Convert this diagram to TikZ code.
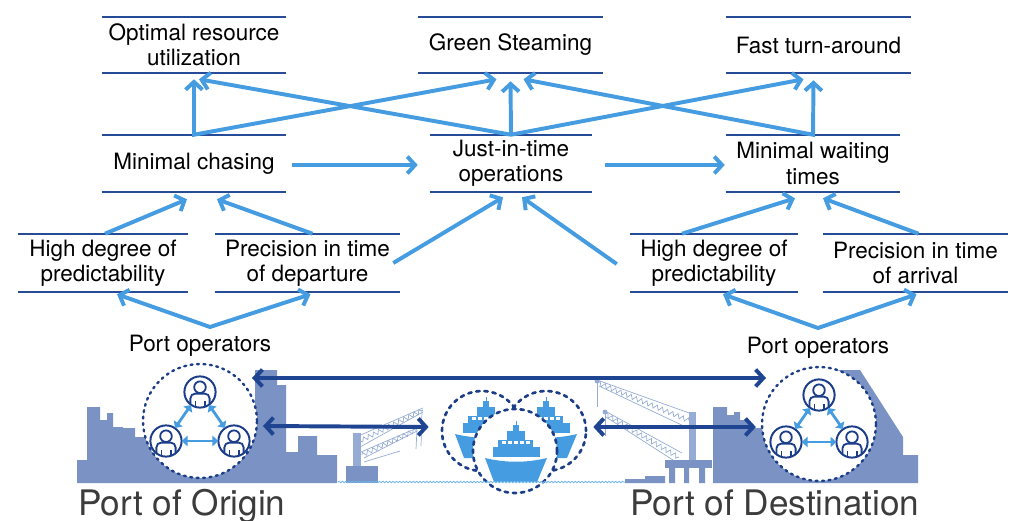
\documentclass[tikz,border=0pt]{standalone}
\usepackage{fontspec}
\setmainfont{TeX Gyre Heros}
\usetikzlibrary{arrows.meta,calc,decorations.pathmorphing}
\definecolor{rulecol}{RGB}{38,76,152}
\definecolor{flow}{RGB}{70,156,224}
\definecolor{deepblue}{RGB}{30,68,146}
\definecolor{ringcol}{RGB}{28,62,136}
\definecolor{town}{RGB}{122,146,196}
\definecolor{cranecol}{RGB}{150,172,212}
\definecolor{sea}{RGB}{110,182,232}
\definecolor{titlecol}{RGB}{60,60,60}
\tikzset{
  goal/.style={align=center, inner sep=0pt, minimum height=14.25mm, font=\fontsize{16}{18}\selectfont},
  rule/.style={draw=rulecol, line width=1.4pt},
  up/.style={draw=flow, line width=2.8pt, -{Straight Barb[length=5.5pt,width=12pt]}},
  both/.style={draw=flow, line width=2.8pt, {Straight Barb[length=5.5pt,width=12pt]}-{Straight Barb[length=5.5pt,width=12pt]}},
  link/.style={draw=deepblue, line width=2.8pt, {Straight Barb[length=5.5pt,width=12pt]}-{Straight Barb[length=5.5pt,width=12pt]}},
  mutual/.style={draw=flow, line width=2pt, {Triangle[length=4pt,width=7.5pt]}-{Triangle[length=4pt,width=7.5pt]}, shorten <=-0.5pt, shorten >=-0.5pt},
  ring/.style={circle, draw=ringcol, fill=white, line width=1.7pt, dash pattern=on 1.4pt off 3.2pt, line cap=round, inner sep=0pt},
  fleet/.style={ring, line width=1.9pt, dash pattern=on 2.4pt off 3.4pt},
  crew/.style={circle, draw=ringcol, fill=white, line width=1.4pt, minimum size=7.8mm, inner sep=0pt,
    path picture={
      \draw[ringcol, line width=1.3pt] ([yshift=1.2mm]path picture bounding box.center) circle[radius=1.45mm];
      \draw[ringcol, line width=1.3pt, rounded corners=1.2mm]
        ([shift={(-2.4mm,-4.8mm)}]path picture bounding box.center) -- ++(0,4.4mm) -- ++(4.8mm,0) -- ++(0,-4.4mm);
      \draw[ringcol, line width=1pt]
        ([shift={(-1.2mm,-2.3mm)}]path picture bounding box.center) -- ++(0,-2.4mm)
        ([shift={(1.2mm,-2.3mm)}]path picture bounding box.center) -- ++(0,-2.4mm);
    }},
  boom/.style={draw=cranecol, line width=0.5pt},
  lattice/.style={boom, decorate, decoration={zigzag, segment length=4pt, amplitude=1.6pt}},
  vessel/.pic={
    \fill[flow] (-31,-24) .. controls (-10,-19) and (10,-19) .. (31,-24) -- (21,0) -- (-22,0) -- cycle;
    \fill[flow] (-23,-35) rectangle (24,-25);
    \fill[flow] (-18,-42) rectangle (17,-35);
    \fill[flow] (-9,-51) rectangle (9,-42);
    \fill[flow] (-3,-57) rectangle (3,-51);
    \draw[flow, line width=0.6pt] (0,-57) -- (0,-61);
    \foreach \w in {-14,-8,-2,4,10} \fill[white] (\w,-41) rectangle ++(4,3);
  }
}
\begin{document}
\begin{tikzpicture}[x=0.25mm, y=-0.25mm]
\useasboundingbox (0,0) rectangle (1016,521);

\node[goal, minimum width=46mm, minimum height=14mm] (opt) at (194,45) {Optimal resource\\utilization};
\node[goal, minimum width=46.25mm, minimum height=14mm] (steam) at (510.5,45) {Green Steaming};
\node[goal, minimum width=46.25mm, minimum height=14mm] (fast) at (818.5,45) {Fast turn-around};
\node[goal, minimum width=46mm] (chase) at (194,163.5) {Minimal chasing};
\node[goal, minimum width=40.5mm] (jit) at (511,163.5) {Just-in-time\\operations};
\node[goal, minimum width=43.5mm] (wait) at (813,163.5) {Minimal waiting\\times};
\node[goal, minimum width=42.5mm, minimum height=14.5mm] (hdL) at (103,263) {High degree of\\predictability};
\node[goal, minimum width=46.25mm, minimum height=14.5mm] (precD) at (307.5,263) {Precision in time\\of departure};
\node[goal, minimum width=42mm, minimum height=14.5mm] (hdR) at (714,263) {High degree of\\predictability};
\node[goal, minimum width=46.25mm, minimum height=14.5mm] (precA) at (915.5,263) {Precision in time\\of arrival};

\foreach \n in {opt,steam,fast,chase,jit,wait,hdL,precD,hdR,precA}
  \draw[rule] (\n.north west) -- (\n.north east) (\n.south west) -- (\n.south east);

% goals on top
\draw[both] ($(opt.south)+(0,6)$) -- (chase.north) -- ($(steam.south)+(-14,6)$);
\draw[both] ($(opt.south)+(5,6)$) -- (jit.north) -- ($(fast.south)+(-15,6)$);
\draw[up] (jit.north) -- ($(steam.south)+(0,8)$);
\draw[both] ($(steam.south)+(13,6)$) -- (wait.north) -- ($(fast.south)+(-5,7)$);

% middle row
\draw[up] ($(chase.east)+(6,1.5)$) -- ($(jit.west)+(-12,1.5)$);
\draw[up] ($(jit.east)+(13,1.5)$) -- ($(wait.west)+(-1,1.5)$);

% bottom row
\draw[up] ($(hdL.north)+(2,0)$) -- ($(chase.south)+(-7,7)$);
\draw[up] ($(precD.north)+(5,0)$) -- ($(chase.south)+(23,7)$);
\draw[up] ($(precD.east)+(-7,0)$) -- ($(jit.south)+(-8,5)$);
\draw[up] ($(hdR.west)+(-13,1)$) -- ($(jit.south)+(11,5)$);
\draw[up] ($(hdR.north)+(-32,0)$) -- ($(wait.south)+(-18,6)$);
\draw[up] ($(precA.north)+(3,0)$) -- ($(wait.south)+(10,6)$);

\node[font=\fontsize{16}{18}\selectfont] (portL) at (200,346) {Port operators};
\node[font=\fontsize{16}{18}\selectfont] (portR) at (818,348) {Port operators};
\coordinate (hubL) at (210,327);
\coordinate (hubR) at (818,328);
\draw[both] ($(hdL.south)+(14,2)$) -- (hubL) -- ($(precD.south)+(3,2)$);
\draw[both] ($(hdR.south)+(9,2)$) -- (hubR) -- ($(precA.south)+(1,2)$);

% harbour skyline
\fill[town] (77,483) |- (87,460) |- (100,407) |- (107,420) |- (113,413) |- (123,427) |- (135,428) |- (143,437)
  -- (255,437) |- (277,370) |- (286,385) |- (298,452) |- (317,436) |- (337,455) -- (337,483) -- cycle;
\fill[town] (713,483) |- (727,407) |- (734,415) |- (740,412) |- (748,420) |- (757,428) -- (790,428)
  -- (838,370) -- (860,370) -- (903,437) -- (903,455) -- (918,455) -- (918,483) -- cycle;
\fill[town] (625,483) -- (625,479) -- (645,479) -- (645,476) -- (665,476) -- (665,483) -- cycle;

% cranes
\draw[boom] (356,437) -- (423,408) (360,447) -- (423,412);
\draw[lattice] (358,442) -- (423,410);
\draw[boom] (361,452) -- (417,428) (364,458) -- (417,431);
\draw[lattice] (362,455) -- (417,429.5);
\draw[boom] (364,462) -- (400,451) (422,411) -- (421,446) (417,430) -- (416,449);
\fill[cranecol] (353,433) rectangle (361,467);
\fill[town] (346,466) rectangle (378,483);
\draw[boom] (597,380) -- (692,414) (599,386) -- (688,428);
\draw[lattice] (598,383) -- (690,421);
\draw[boom] (605,411) -- (682,453) (606,417) -- (676,462);
\draw[lattice] (605.5,414) -- (679,457.5);
\draw[boom] (597,382) -- (597,407) (605,413) -- (605,436);
\fill[cranecol] (597,381) circle[radius=2.5] (605,412) circle[radius=2.5];
\fill[cranecol] (689,412) rectangle (696,462);
\fill[town] (665,460) rectangle (712,468);
\fill[town] (669,468) rectangle (675,483) (684,468) rectangle (689,483) (699,468) rectangle (705,483);

% port operators
\node[ring, minimum size=28.5mm] (cirL) at (200,421) {};
\node[ring, minimum size=28.5mm] (cirR) at (819,424) {};
\node[crew] (opL1) at (200,392) {};
\node[crew] (opL2) at (166,441) {};
\node[crew] (opL3) at (234,441) {};
\node[crew] (opR1) at (819,395) {};
\node[crew] (opR2) at (786,442) {};
\node[crew] (opR3) at (852,442) {};
\draw[mutual] (opL1) -- (opL2);
\draw[mutual] (opL2) -- (opL3);
\draw[mutual] (opL3) -- (opL1);
\draw[mutual] (opR1) -- (opR2);
\draw[mutual] (opR2) -- (opR3);
\draw[mutual] (opR3) -- (opR1);

% vessels
\node[fleet, fill=none, minimum size=20mm] (shipL) at (482,431) {};
\node[fleet, fill=none, minimum size=20mm] (shipR) at (546,431) {};
\pic at (486,458) {vessel};
\pic at (546,458) {vessel};
\node[fleet, minimum size=21mm] (shipF) at (515,451) {};
\pic at (516,482) {vessel};
\draw[sea, line width=0.6pt, decorate, decoration={snake, amplitude=0.5pt, segment length=2.4pt}] (338,482) -- (625,482);

\draw[link] ($(cirL.center)+(52,-43)$) -- ($(cirR.center)+(-53,-46)$);
\draw[link] ($(cirL.center)+(63,5)$) -- ($(shipL.west)+(-12,-4)$);
\draw[link] ($(shipR.east)+(6,-4)$) -- ($(cirR.west)+(-5,3)$);

\node[font=\fontsize{25}{28}\selectfont, text=titlecol, anchor=base west, inner sep=0pt] (origin) at (78,515) {Port of Origin};
\node[font=\fontsize{25}{28}\selectfont, text=titlecol, anchor=base west, inner sep=0pt] (dest) at (630,515) {Port of Destination};
\end{tikzpicture}
\end{document}
